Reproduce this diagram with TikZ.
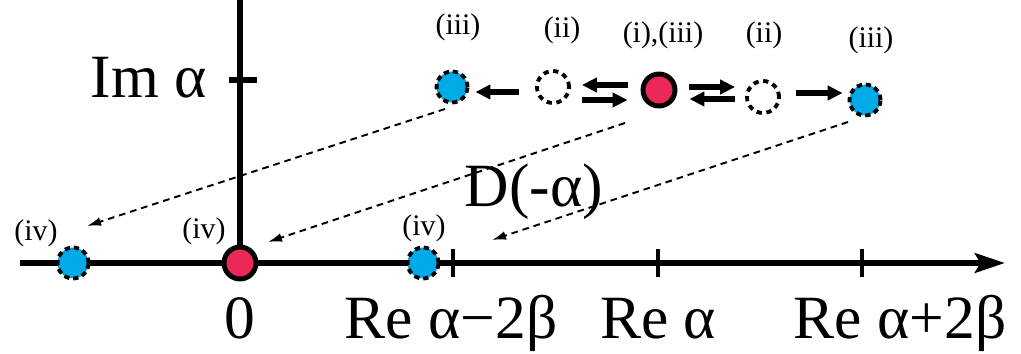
\documentclass[tikz,border=0pt]{standalone}
\usepackage{fontspec}
\setmainfont{Liberation Serif}
\usetikzlibrary{arrows.meta}
\definecolor{ptred}{RGB}{236,40,88}
\definecolor{ptblue}{RGB}{0,170,230}
\begin{document}
\begin{tikzpicture}[x=0.02cm, y=-0.02cm, every node/.append style={inner sep=0pt},
  axis/.style={line width=3.4pt},
  redpt/.style={circle, draw, line width=2.8pt, fill=ptred, minimum size=0.64cm},
  bluept/.style={circle, draw, line width=2.2pt, dash pattern=on 3pt off 2.2pt, fill=ptblue, minimum size=0.62cm},
  emptypt/.style={circle, draw, line width=2.2pt, dash pattern=on 3pt off 2.6pt, fill=white, minimum size=0.64cm},
  harr/.style={line width=2.9pt, -{Triangle[length=8.5pt,width=8pt]}},
  maparr/.style={line width=1.1pt, dash pattern=on 3.8pt off 2.8pt, -{Latex[length=8pt,width=5pt]}},
  big/.style={font=\fontsize{35}{40}\selectfont},
  tag/.style={font=\fontsize{17}{20}\selectfont}]
  \useasboundingbox (0,0) rectangle (1021,354);
  % axes and ticks
  \coordinate (xs) at (20,263); \coordinate (xe) at (1005,263); \coordinate (ys) at (240,0);
  \draw[axis, -{Stealth[length=17pt,width=11pt,inset=3pt]}] (xs) -- (xe);
  \draw[axis] (ys) -- (240,263);
  \draw[axis] (229,80) -- (257,80);
  \foreach \t in {453,658,862} \draw[line width=2.8pt] (\t,249) -- (\t,277);
  % axis labels
  \node[big, anchor=base east] (lim) at (207,98) {Im α};
  \node[big, anchor=base] (l0) at (240,339) {0};
  \node[big, anchor=base] (lm) at (451,339) {Re α−2β};
  \node[big, anchor=base] (la) at (658,339) {Re α};
  \node[big, anchor=base] (lp) at (900,339) {Re α+2β};
  \node[big, anchor=base] (ld) at (534,207) {D(-α)};
  % displacement arrows
  \coordinate (m1s) at (445,109); \coordinate (m1e) at (87,226);
  \coordinate (m2s) at (625,123); \coordinate (m2e) at (268,242);
  \coordinate (m3s) at (848,122); \coordinate (m3e) at (492,240);
  \draw[maparr] (m1s) -- (m1e);
  \draw[maparr] (m2s) -- (m2e);
  \draw[maparr] (m3s) -- (m3e);
  % states, top row
  \node[bluept] (L3) at (452,87) {};
  \node[emptypt] (L2) at (553,87) {};
  \node[redpt] (M) at (659,90) {};
  \node[emptypt] (R2) at (763,97) {};
  \node[bluept] (R3) at (865,100) {};
  \node[tag] (tL3) at (458,27) {(iii)};
  \node[tag] (tL2) at (562,30) {(ii)};
  \node[tag] (tM) at (663,35) {(i),(iii)};
  \node[tag] (tR2) at (764,35) {(ii)};
  \node[tag] (tR3) at (871,40) {(iii)};
  \draw[harr] ([shift={(-16,5)}]L2.west) -- ([shift={(6,5)}]L3.east);
  \draw[harr] ([shift={(-13,-5)}]M.west) -- ([shift={(11,-2)}]L2.east);
  \draw[harr] ([shift={(11,13)}]L2.east) -- ([shift={(-13,10)}]M.west);
  \draw[harr] ([shift={(12,-3)}]M.east) -- ([shift={(-10,-10)}]R2.west);
  \draw[harr] ([shift={(-10,2)}]R2.west) -- ([shift={(12,9)}]M.east);
  \draw[harr] ([shift={(15,-4)}]R2.east) -- ([shift={(-5,-7)}]R3.west);
  % states, real axis
  \node[bluept] (B1) at (73,263) {};
  \node[redpt] (O) at (240,263) {};
  \node[bluept] (B2) at (423,263) {};
  \node[tag] (tB1) at (36,233) {(iv)};
  \node[tag] (tO) at (204,231) {(iv)};
  \node[tag] (tB2) at (424,228) {(iv)};
\end{tikzpicture}
\end{document}
